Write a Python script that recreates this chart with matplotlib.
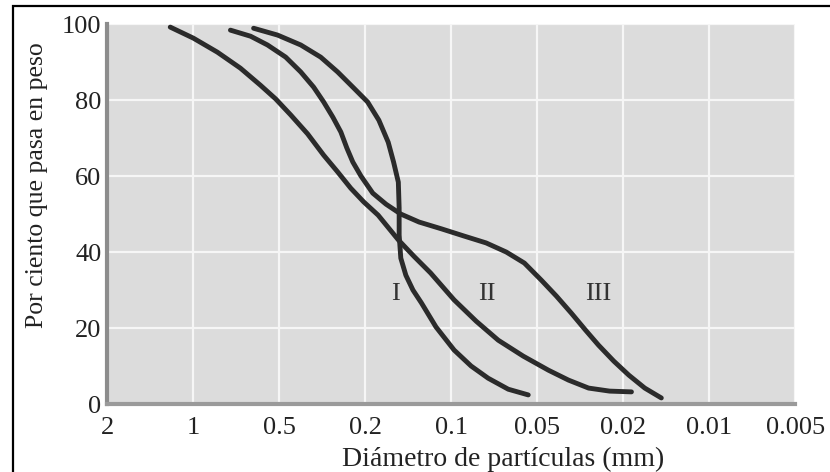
"""
Curvas granulométricas I, II y III (porcentaje que pasa vs diámetro)
"""

import matplotlib
matplotlib.use("Agg")
matplotlib.rcParams["font.family"] = ["Liberation Serif", "DejaVu Serif"]

import matplotlib.pyplot as plt
import numpy as np
from matplotlib.patches import Rectangle
from matplotlib.ticker import FixedLocator, FixedFormatter, NullLocator

# ============================================================
# Datos
# ============================================================
tick_diam = [2, 1, 0.5, 0.2, 0.1, 0.05, 0.02, 0.01, 0.005]
tick_text = ["2", "1", "0.5", "0.2", "0.1", "0.05", "0.02", "0.01", "0.005"]

# Curva I
d_I = [0.614, 0.506, 0.397, 0.321, 0.268, 0.226, 0.196, 0.179, 0.166,
       0.159, 0.153, 0.152, 0.152, 0.150, 0.144, 0.136, 0.127, 0.113,
       0.0976, 0.0851, 0.0742, 0.0631, 0.0537]
p_I = [98.9, 97.1, 94.5, 91.3, 87.4, 83.2, 79.5, 74.7, 68.9,
       63.7, 58.4, 51.6, 44.5, 38.4, 33.9, 30.0, 26.6, 20.3,
       14.2, 10.0, 6.8, 3.9, 2.4]

# Curva II
d_II = [1.202, 0.998, 0.822, 0.683, 0.581, 0.514, 0.442, 0.369, 0.311,
        0.268, 0.233, 0.203, 0.180, 0.153, 0.135, 0.118, 0.0976, 0.0817,
        0.0684, 0.0559, 0.0443, 0.0358, 0.0289, 0.0231, 0.0187]
p_II = [99.2, 96.3, 92.6, 88.4, 83.9, 80.3, 76.1, 71.1, 65.5,
        61.1, 56.8, 53.2, 49.7, 43.2, 38.9, 34.5, 27.4, 21.8,
        16.8, 12.6, 8.9, 6.3, 4.2, 3.4, 3.2]

# Curva III
d_III = [0.740, 0.629, 0.549, 0.466, 0.397, 0.346, 0.311, 0.282, 0.259,
         0.243, 0.228, 0.209, 0.188, 0.169, 0.150, 0.1295, 0.108, 0.0900,
         0.0754, 0.0641, 0.0554, 0.0478, 0.0407, 0.0347, 0.0299, 0.0260,
         0.0221, 0.0191, 0.0168, 0.0147]
p_III = [98.4, 96.8, 94.5, 91.3, 87.4, 83.4, 79.5, 75.5, 71.6,
         67.4, 63.7, 60.0, 55.5, 52.6, 50.0, 47.9, 46.1, 44.2,
         42.4, 40.0, 37.1, 32.6, 28.4, 23.9, 19.5, 15.5,
         11.3, 7.6, 4.2, 1.6]

curve_names = ["I", "II", "III"]
name_diam = [0.157, 0.0747, 0.026]
name_pct = [29, 29, 29]

# ============================================================
# Escala: diámetros 1-2-5 equiespaciados
# ============================================================
_xp = -np.log10(np.array(tick_diam, dtype=float))
_pos = np.arange(len(tick_diam), dtype=float)


def forward(d):
    d = np.clip(np.asarray(d, dtype=float), 1e-6, None)
    return np.interp(-np.log10(d), _xp, _pos)


def inverse(p):
    return 10.0 ** (-np.interp(np.asarray(p, dtype=float), _pos, _xp))


# ============================================================
# Gráfico
# ============================================================
fig = plt.figure(figsize=(8.3, 4.72), dpi=100)
ax = fig.add_axes([0.129, 0.144, 0.829, 0.805])
ax.set_facecolor("#dcdcdc")

ax.set_xscale("function", functions=(forward, inverse))
ax.set_xlim(tick_diam[-1], tick_diam[0])
ax.set_ylim(0, 100)

ax.xaxis.set_major_locator(FixedLocator(tick_diam))
ax.xaxis.set_major_formatter(FixedFormatter(tick_text))
ax.xaxis.set_minor_locator(NullLocator())
ax.set_yticks([0, 20, 40, 60, 80, 100])

ax.grid(True, color="#f6f6f6", lw=1.6)
ax.set_axisbelow(True)
ax.tick_params(length=0, labelsize=19, colors="#222222")
ax.tick_params(axis="x", pad=9)
ax.tick_params(axis="y", pad=4)

for s in ["top", "right"]:
    ax.spines[s].set_visible(False)
ax.spines["left"].set_color("#8c8c8c")
ax.spines["left"].set_linewidth(3)
ax.spines["bottom"].set_color("#9a9a9a")
ax.spines["bottom"].set_linewidth(3)

for d, p in [(d_I, p_I), (d_II, p_II), (d_III, p_III)]:
    ax.plot(d, p, color="#2b2b2b", lw=3.5,
            solid_capstyle="round", solid_joinstyle="round", zorder=3)

for name, d, p in zip(curve_names, name_diam, name_pct):
    ax.text(d, p, name, fontsize=19, ha="center", va="center",
            color="#333333", zorder=4)

ax.set_xlabel("Diámetro de partículas (mm)", fontsize=20, va="center",
              color="#222222")
ax.xaxis.set_label_coords(0.576, -0.147)
ax.set_ylabel("Por ciento que pasa en peso", fontsize=18.5, va="center",
              color="#222222")
ax.yaxis.set_label_coords(-0.102, 0.576)

# marco exterior
fig.add_artist(Rectangle((13 / 830, -0.2), 1.2, 1.2 - 6 / 472,
                         transform=fig.transFigure, fill=False,
                         edgecolor="black", lw=1.6))

fig.savefig("out.png", dpi=100)
plt.close()
